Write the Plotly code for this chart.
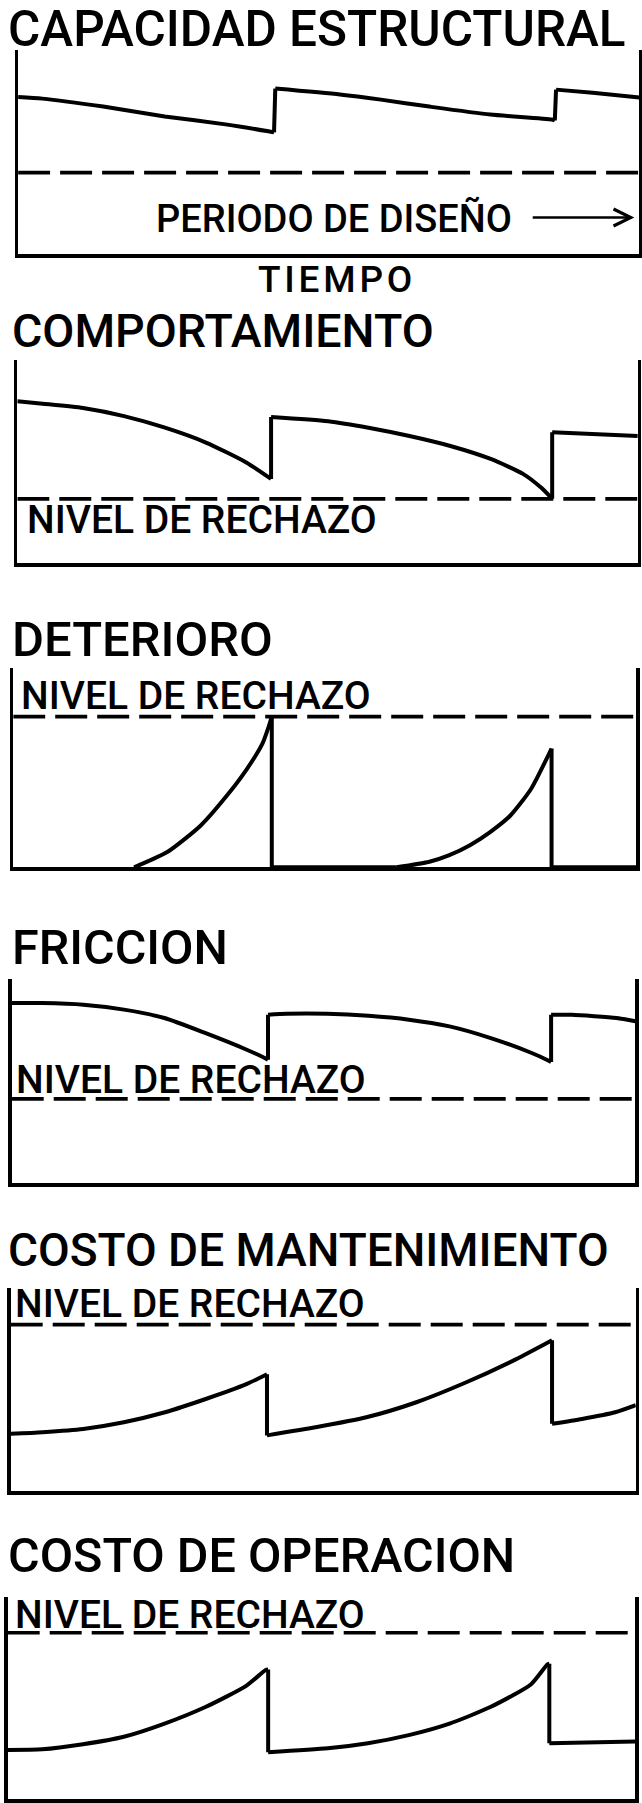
import plotly.graph_objects as go

FONT = "Roboto, Liberation Sans, Arial, sans-serif"
INK = "black"
PAGE_W, PAGE_H = 642, 1803
LINE_W = 3.4

# time axis: % of the design period, level axis: % of panel height
# None separates the smooth stretches; jumps between them are straight strokes
PERIOD = [0, 100]

capacidad_t = [0, 3.9, 13.7, 23.6, 33.4, 40.3, 41.2, None, 41.4, 51.8, 58.4, 66.2, 76.0, 85.9, 86.4, None, 86.6, 92.5, 100]
capacidad_v = [77.0, 76.2, 72.3, 67.5, 63.6, 60.2, 59.7, None, 81.1, 78.2, 75.7, 72.3, 68.4, 66.0, 65.5, None, 80.6, 79.1, 76.7]

comportamiento_t = [0, 4.1, 10.6, 17.2, 23.8, 30.4, 36.9, 40.9, None, 40.9, 50.1, 56.6, 63.2, 69.8, 76.4, 81.5, 84.5, 86.2, None, 86.2, 100]
comportamiento_v = [79.7, 78.5, 76.4, 72.4, 66.7, 59.4, 49.6, 41.5, None, 72.0, 69.9, 66.7, 62.6, 57.7, 51.2, 44.0, 37.0, 31.7, None, 64.5, 62.6]

deterioro_t = [19.4, 24.8, 30.1, 34.3, 37.5, 40.0, 41.0, 41.5, None, 41.5, 61.5, None,
               61.5, 66.8, 70.0, 73.3, 76.6, 79.8, 83.1, 86.4, None, 86.4, 100]
deterioro_v = [0, 7.8, 21.0, 36.0, 49.3, 62.0, 70.5, 75.6, None, 0, 0, None,
               0, 2.8, 6.1, 11.1, 17.8, 26.0, 39.3, 59.6, None, 0, 0]

friccion_t = [0, 4.9, 11.5, 18.0, 24.5, 31.0, 37.6, 40.8, 41.1, None, 41.1, 44.1, 50.6, 57.2, 63.7, 70.2, 76.7, 83.3, 86.2, 86.5, None, 86.5, 89.8, 97.0, 100]
friccion_v = [88.2, 88.2, 87.4, 85.0, 80.9, 73.6, 65.5, 61.0, 60.5, None, 82.5, 83.0, 83.0, 82.0, 80.1, 76.8, 71.2, 63.9, 59.9, 59.4, None, 82.5, 82.5, 80.9, 79.3]

mantenimiento_t = [0, 5.1, 11.6, 18.1, 24.7, 31.2, 37.7, 41.0, None, 41.0, 49.0, 56.9, 64.9, 72.8, 80.8, 86.6, None, 86.6, 91.4, 96.7, 100]
mantenimiento_v = [28.3, 29.1, 30.7, 34.0, 38.9, 45.4, 52.7, 57.6, None, 27.5, 31.6, 36.4, 43.8, 53.5, 64.9, 74.3, None, 33.2, 35.6, 38.9, 42.4]

operacion_t = [0, 5.5, 12.0, 18.5, 25.0, 31.5, 38.0, 41.1, 41.5, None, 41.5, 51.0, 57.4, 63.9, 70.4, 76.9, 83.4, 86.0, 86.3, None, 86.3, 100]
operacion_v = [24.4, 24.7, 27.2, 30.9, 37.4, 45.6, 56.1, 63.9, 64.2, None, 23.3, 25.2, 27.7, 31.7, 37.4, 45.6, 56.9, 66.7, 67.0, None, 27.7, 28.6]

titles = ["CAPACIDAD ESTRUCTURAL", "COMPORTAMIENTO", "DETERIORO", "FRICCION",
          "COSTO DE MANTENIMIENTO", "COSTO DE OPERACION"]
dashed_levels = [40.0, 31.7, 75.6, 41.3, 82.0, 82.3]
reject_label = "NIVEL DE RECHAZO"
design_label = "PERIODO DE DISEÑO"
time_label = "\u200a".join("TIEMPO")

series = [
    (capacidad_t, capacidad_v),
    (comportamiento_t, comportamiento_v),
    (deterioro_t, deterioro_v),
    (friccion_t, friccion_v),
    (mantenimiento_t, mantenimiento_v),
    (operacion_t, operacion_v),
]

# layout: panel frame line centres in page pixels (left, right, top, bottom)
boxes = [
    (16.4, 641.0, 50, 256),
    (15.6, 639.5, 360, 565),
    (11.5, 638.0, 668, 869),
    (10.0, 637.0, 979, 1185),
    (9.0, 637.5, 1288, 1493),
    (6.0, 637.0, 1597, 1801),
]
# title (left px, centre px, font size)
title_pos = [(6, 29.5, 49.5), (10, 331, 46.5), (10, 639, 49), (10, 947.5, 48.5), (6, 1250, 46), (6, 1555, 48.5)]
# reject label (x, y) in panel units, None for first panel
label_pos = [None, (1.2, 21.5), (0.9, 86.1), (0.4, 50.7), (0.3, 92.0), (0.8, 91.3)]


def connectors(t, v):
    # straight jumps joining the end of one stretch to the start of the next
    runs, cur = [], []
    for a, b in zip(t, v):
        if a is None:
            runs.append(cur)
            cur = []
        else:
            cur.append((a, b))
    runs.append(cur)
    cx, cy = [], []
    for r0, r1 in zip(runs[:-1], runs[1:]):
        cx += [r0[-1][0], r1[0][0], None]
        cy += [r0[-1][1], r1[0][1], None]
    return cx, cy


fig = go.Figure()
annotations = []
axes = {}
inset = LINE_W / 2

for i, ((t, v), level, box) in enumerate(zip(series, dashed_levels, boxes)):
    n = "" if i == 0 else str(i + 1)
    left, right, top, bottom = box
    fig.add_trace(go.Scatter(
        x=t, y=v, mode="lines", xaxis="x" + n, yaxis="y" + n,
        line=dict(color=INK, width=4, shape="spline", smoothing=0.6), connectgaps=False, hoverinfo="skip",
    ))
    cx, cy = connectors(t, v)
    fig.add_trace(go.Scatter(
        x=cx, y=cy, mode="lines", xaxis="x" + n, yaxis="y" + n,
        line=dict(color=INK, width=4), connectgaps=False, hoverinfo="skip",
    ))
    fig.add_trace(go.Scatter(
        x=PERIOD, y=[level, level], mode="lines", xaxis="x" + n, yaxis="y" + n,
        line=dict(color=INK, width=3.6, dash="32px,10px"), hoverinfo="skip",
    ))
    common = dict(range=[0, 100], showgrid=False, zeroline=False, showticklabels=False,
                  ticks="", showline=True, linecolor=INK, linewidth=LINE_W, fixedrange=True)
    axes["xaxis" + n] = dict(domain=[(left + inset) / PAGE_W, (right - inset) / PAGE_W], anchor="y" + n, **common)
    axes["yaxis" + n] = dict(domain=[1 - (bottom - inset) / PAGE_H, 1 - top / PAGE_H], anchor="x" + n,
                             mirror=True, **common)

    tx, ty, ts = title_pos[i]
    annotations.append(dict(
        text=titles[i], xref="paper", yref="paper", x=tx / PAGE_W, y=1 - ty / PAGE_H,
        xanchor="left", yanchor="middle", showarrow=False,
        font=dict(family=FONT, size=ts, color=INK, weight=500),
    ))
    if label_pos[i] is not None:
        lx, ly = label_pos[i]
        annotations.append(dict(
            text=reject_label, xref="x" + n, yref="y" + n, x=lx, y=ly,
            xanchor="left", yanchor="middle", showarrow=False,
            font=dict(family=FONT, size=39, color=INK, weight=500),
        ))

# first panel extras
annotations.append(dict(
    text=design_label, xref="x", yref="y", x=21.8, y=17.5, xanchor="left", yanchor="middle",
    showarrow=False, font=dict(family=FONT, size=38, color=INK, weight=500),
))
annotations.append(dict(
    text="", xref="x", yref="y", x=99.2, y=18, axref="x", ayref="y", ax=82.6, ay=18,
    showarrow=True, arrowhead=5, arrowsize=1.4, arrowwidth=2.4, arrowcolor=INK,
))
annotations.append(dict(
    text=time_label, xref="x", yref="y domain", x=51.0, y=-0.121, xanchor="center", yanchor="middle",
    showarrow=False, font=dict(family=FONT, size=37, color=INK, weight=500),
))

fig.update_layout(
    width=PAGE_W, height=PAGE_H, autosize=False,
    margin=dict(l=0, r=0, t=0, b=0),
    paper_bgcolor="white", plot_bgcolor="white",
    showlegend=False, annotations=annotations,
    **axes,
)

fig.write_html(
    "out.html",
    config={"displayModeBar": False, "staticPlot": True},
    post_script="document.body.style.margin='0';document.body.style.overflow='hidden';",
)
